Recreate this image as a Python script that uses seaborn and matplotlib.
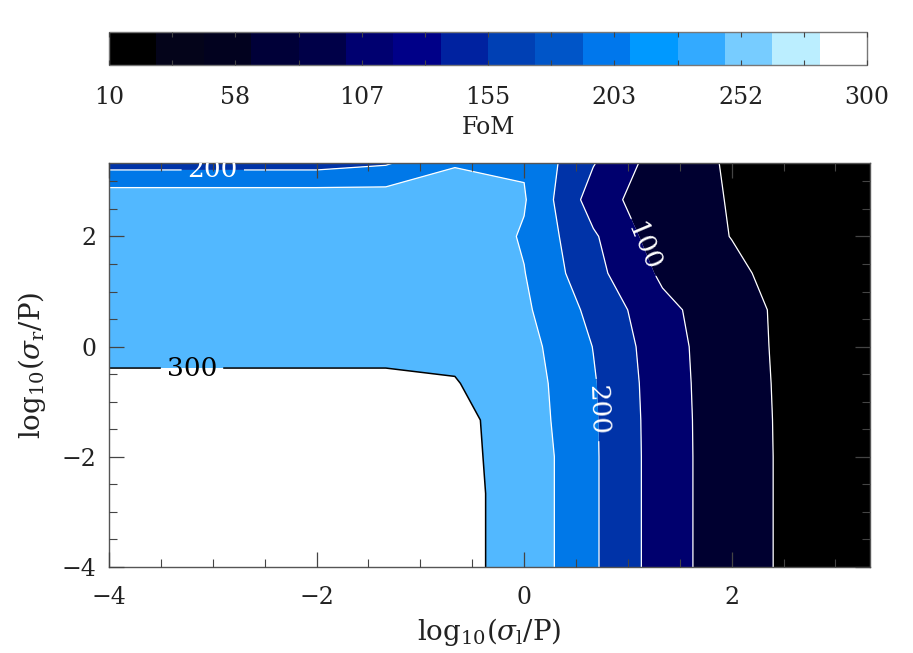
import numpy as np
import matplotlib
matplotlib.use("Agg")
import matplotlib.pyplot as plt
import seaborn as sns
from matplotlib.colors import ListedColormap, BoundaryNorm
import matplotlib.cm as cm
from matplotlib.ticker import FixedLocator

# ---------------- data ----------------
log_sigma_l = [-4.0, -3.333, -2.667, -2.0, -1.333, -0.667, 0.0, 0.667, 1.333, 2.0, 2.667, 3.333]
log_sigma_r = [-4.0, -3.333, -2.667, -2.0, -1.333, -0.667, 0.0, 0.667, 1.333, 2.0, 2.667, 3.333]

# FoM on the grid, one list per log10(sigma_r/P) row (columns follow log_sigma_l)
fom_r_m4_00 = [318, 318, 317, 317, 316, 313.1, 283.6, 206.7, 125.1, 68.1, 37.9, 20]
fom_r_m3_33 = [318, 318, 317, 317, 316, 313.1, 283.6, 206.7, 125.1, 68.1, 37.9, 20]
fom_r_m2_67 = [318, 317, 317, 316, 316, 313.1, 283.6, 206.7, 125.1, 68.1, 37.9, 20]
fom_r_m2_00 = [317, 317, 316, 316, 315, 311.2, 283.6, 206.7, 125.1, 68.1, 37.9, 20]
fom_r_m1_33 = [316, 316, 315, 315, 314, 313.0, 277.7, 206.0, 124.5, 68.0, 37.5, 20]
fom_r_m0_67 = [310, 310, 310, 310, 310, 302.2, 274.5, 204.1, 122.8, 67.9, 36.5, 19]
fom_r_p0_00 = [286, 286, 286, 286, 286, 290.6, 268.4, 198.9, 119.8, 68.5, 34.2, 18]
fom_r_p0_67 = [290, 290, 290, 290, 290, 290.0, 258.6, 186.7, 112.9, 68.4, 32.7, 17]
fom_r_p1_33 = [290, 290, 290, 290, 290, 290.0, 251.6, 165.6, 91.3, 58.0, 31.0, 16]
fom_r_p2_00 = [290, 290, 290, 290, 290, 289.5, 245.0, 156.6, 71.4, 49.2, 28.0, 14]
fom_r_p2_67 = [284.3, 284.3, 284.3, 284.3, 279.7, 285.0, 254.0, 126.5, 64.1, 48.3, 27.0, 13]
fom_r_p3_33 = [180.3, 180.3, 180.3, 180.3, 194.7, 245.0, 245.4, 152.8, 72.3, 45.1, 25.0, 12]

fill_levels = [0, 50, 100, 150, 200, 250, 300, 350]
fill_colors = ["#000000", "#000030", "#00006e", "#0033a8", "#0078e8", "#52b8ff", "#ffffff"]
line_levels = [50, 100, 150, 200, 250, 300]
line_colors = ["white", "white", "white", "white", "white", "black"]

cbar_colors = ["#000000", "#04041a", "#02021f", "#000038", "#000048", "#000070",
               "#000088", "#0022a0", "#0040b4", "#0055c8", "#0077ec", "#0099ff",
               "#33aaff", "#77ccff", "#bbeeff", "#ffffff"]
cbar_min, cbar_max = 10, 300
cbar_ticks = [10, 58.33, 106.67, 155, 203.33, 251.67, 300]
cbar_ticklabels = ["10", "58", "107", "155", "203", "252", "300"]

x_ticks = [-4, -2, 0, 2]
y_ticks = [-4, -2, 0, 2]
x_ticklabels = ["\u22124", "\u22122", "0", "2"]
y_ticklabels = ["\u22124", "\u22122", "0", "2"]

# ---------------- style ----------------
sns.set_theme(style="white")
plt.rcParams["font.family"] = ["DejaVu Serif"]
plt.rcParams["mathtext.fontset"] = "dejavuserif"
plt.rcParams["axes.axisbelow"] = False

fig = plt.figure(figsize=(9.13, 6.53), dpi=100)
ax = fig.add_axes([109 / 913, 1 - 567 / 653, 761 / 913, 404 / 653])
cax = fig.add_axes([109 / 913, 1 - 65 / 653, 758 / 913, 33 / 653])

X, Y = np.meshgrid(np.array(log_sigma_l), np.array(log_sigma_r))
Z = np.array([fom_r_m4_00, fom_r_m3_33, fom_r_m2_67, fom_r_m2_00, fom_r_m1_33, fom_r_m0_67,
              fom_r_p0_00, fom_r_p0_67, fom_r_p1_33, fom_r_p2_00, fom_r_p2_67, fom_r_p3_33])

ax.contourf(X, Y, Z, levels=fill_levels, colors=fill_colors, antialiased=True)
cs = ax.contour(X, Y, Z, levels=line_levels, colors=line_colors,
                linewidths=[0.9, 0.9, 0.9, 0.9, 0.9, 1.1])
ax.clabel(cs, fmt="%d", fontsize=19, inline=True, inline_spacing=6,
          manual=[(-3.0, 3.21), (-3.2, -0.39), (0.72, -1.15), (1.28, 1.9)])

ax.set_xlim(log_sigma_l[0], log_sigma_l[-1])
ax.set_ylim(log_sigma_r[0], log_sigma_r[-1])
ax.set_xticks(x_ticks)
ax.set_yticks(y_ticks)
ax.set_xticklabels(x_ticklabels)
ax.set_yticklabels(y_ticklabels)
ax.xaxis.set_minor_locator(FixedLocator(np.arange(-4, 3.4, 0.5)))
ax.yaxis.set_minor_locator(FixedLocator(np.arange(-4, 3.4, 0.5)))
ax.tick_params(which="both", direction="in", bottom=True, left=True, top=True, right=True,
               colors="#444444", labelcolor="#222222", labelsize=17)
ax.tick_params(axis="x", which="major", length=11, width=0.9, pad=14)
ax.tick_params(axis="y", which="major", length=11, width=0.9, pad=9)
ax.tick_params(which="minor", length=5.5, width=0.8)
ax.set_axisbelow(False)
for s in ax.spines.values():
    s.set_color("#555555")
    s.set_linewidth(1.0)

ax.set_xlabel(r"$\mathrm{log}_{10}(\sigma_\mathrm{l}/\mathrm{P})$", fontsize=20, color="#222222", labelpad=5)
ax.set_ylabel(r"$\mathrm{log}_{10}(\sigma_\mathrm{r}/\mathrm{P})$", fontsize=20, color="#222222", labelpad=10)

# ---------------- colorbar ----------------
bounds = np.linspace(cbar_min, cbar_max, len(cbar_colors) + 1)
sm = cm.ScalarMappable(norm=BoundaryNorm(bounds, len(cbar_colors)), cmap=ListedColormap(cbar_colors))
cb = fig.colorbar(sm, cax=cax, orientation="horizontal")
cb.outline.set_edgecolor("#777777")
cb.outline.set_linewidth(1.0)
cax.set_xticks(cbar_ticks)
cax.set_xticklabels(cbar_ticklabels)
mids = [(cbar_ticks[i] + cbar_ticks[i + 1]) / 2 for i in range(len(cbar_ticks) - 1)]
cax.xaxis.set_minor_locator(FixedLocator(mids))
cax.tick_params(which="both", direction="in", top=True, bottom=True, length=3.5,
                width=0.8, colors="#444444", labelcolor="#222222", labelsize=17, pad=15)
cax.set_axisbelow(False)
cax.set_xlabel("FoM", fontsize=17, color="#222222", labelpad=5)

fig.savefig("out.png", dpi=100)
